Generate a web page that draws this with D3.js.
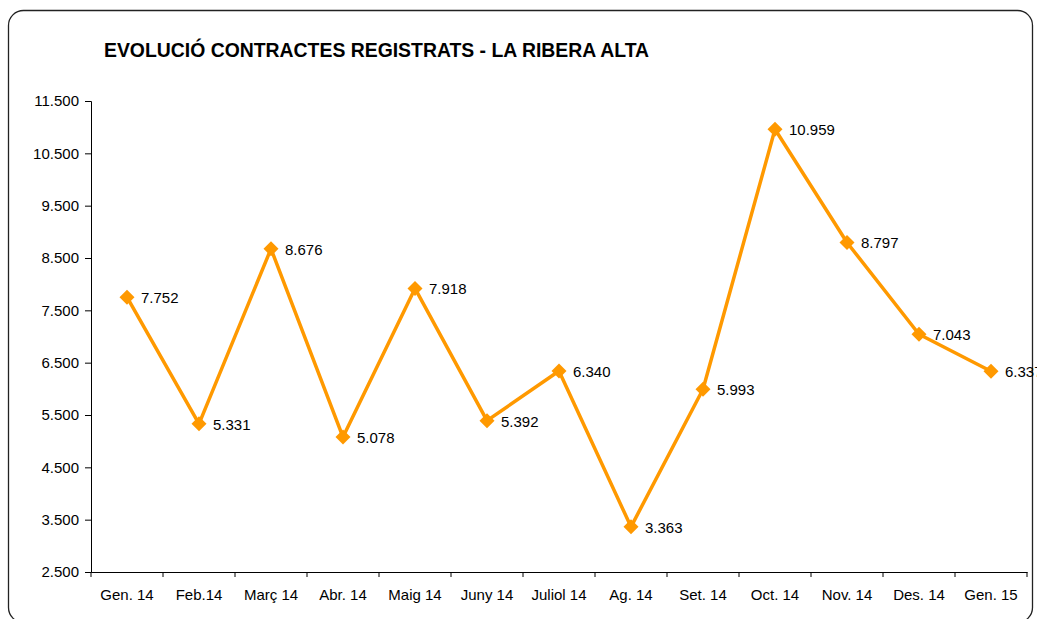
<!DOCTYPE html>
<html>
<head>
<meta charset="utf-8">
<script src="https://cdn.jsdelivr.net/npm/d3@7"></script>
<style>
  body { margin: 0; background: #fff; }
  svg { display: block; }
  svg text { font-family: "Liberation Sans", Arial, sans-serif; }
</style>
</head>
<body>
<div id="chart"></div>
<script>
const months = ['Gen. 14', 'Feb.14', 'Març 14', 'Abr. 14', 'Maig 14', 'Juny 14', 'Juliol 14',
                'Ag. 14', 'Set. 14', 'Oct. 14', 'Nov. 14', 'Des. 14', 'Gen. 15'];
const contracts = [7752, 5331, 8676, 5078, 7918, 5392, 6340, 3363, 5993, 10959, 8797, 7043, 6337];
const yTicks = [2500, 3500, 4500, 5500, 6500, 7500, 8500, 9500, 10500, 11500];

const W = 1037, H = 619;
const margin = {top: 101, right: 10, bottom: 47, left: 91};
const width = 1027 - margin.left;
const height = 572 - margin.top;

const fmt = d3.formatLocale({decimal: ',', thousands: '.', grouping: [3]}).format(',');

const root = d3.select('#chart').append('svg')
    .attr('width', W)
    .attr('height', H);

// Outer frame
root.append('rect')
    .attr('x', 8.5).attr('y', 10.5)
    .attr('width', 1024).attr('height', 612)
    .attr('rx', 15).attr('ry', 15)
    .attr('fill', 'none')
    .attr('stroke', '#222')
    .attr('stroke-width', 1.3);

// Title
root.append('text')
    .attr('x', 104)
    .attr('y', 57)
    .style('font-size', '19.4px')
    .style('font-weight', 'bold')
    .text('EVOLUCIÓ CONTRACTES REGISTRATS - LA RIBERA ALTA');

const svg = root.append('g')
    .attr('transform', `translate(${margin.left},${margin.top})`);

const x = d3.scaleBand()
    .domain(months)
    .range([0, width]);

const y = d3.scaleLinear()
    .domain([2500, 11500])
    .range([height, 0]);

// Y axis
const yAxis = svg.append('g')
    .call(d3.axisLeft(y).tickValues(yTicks).tickFormat(fmt).tickSize(6).tickPadding(6));
yAxis.attr('font-family', null).attr('font-size', null);
yAxis.selectAll('text').style('font-size', '15px').attr('fill', '#000');
yAxis.selectAll('line, path').attr('stroke', '#000');

// X axis with ticks at category boundaries
const xAxis = svg.append('g')
    .attr('transform', `translate(0,${height})`)
    .call(d3.axisBottom(x).tickSize(0).tickPadding(17));
xAxis.attr('font-family', null).attr('font-size', null);
xAxis.selectAll('text').style('font-size', '15px').attr('fill', '#000');
xAxis.select('path').attr('stroke', '#000');
xAxis.selectAll('.boundary')
    .data(d3.range(months.length + 1))
    .enter().append('line')
    .attr('class', 'boundary')
    .attr('x1', i => x.step() * i)
    .attr('x2', i => x.step() * i)
    .attr('y1', 0)
    .attr('y2', 5)
    .attr('stroke', '#000');

const cx = d => x(d) + x.bandwidth() / 2;

// Line
svg.append('path')
    .datum(contracts)
    .attr('fill', 'none')
    .attr('stroke', '#FF9900')
    .attr('stroke-width', 3.5)
    .attr('stroke-linejoin', 'round')
    .attr('d', d3.line()
        .x((d, i) => cx(months[i]))
        .y(d => y(d)));

// Diamond markers
svg.selectAll('.marker')
    .data(contracts)
    .enter().append('path')
    .attr('class', 'marker')
    .attr('transform', (d, i) => `translate(${cx(months[i])},${y(d)})`)
    .attr('d', 'M0,-7.5L7.5,0L0,7.5L-7.5,0Z')
    .attr('fill', '#FF9900');

// Value labels (last one runs off the frame, as in the original)
svg.selectAll('.label')
    .data(contracts)
    .enter().append('text')
    .attr('class', 'label')
    .attr('x', (d, i) => cx(months[i]) + 14)
    .attr('y', d => y(d) + 6)
    .style('font-size', '15px')
    .text(d => fmt(d));
</script>
</body>
</html>
